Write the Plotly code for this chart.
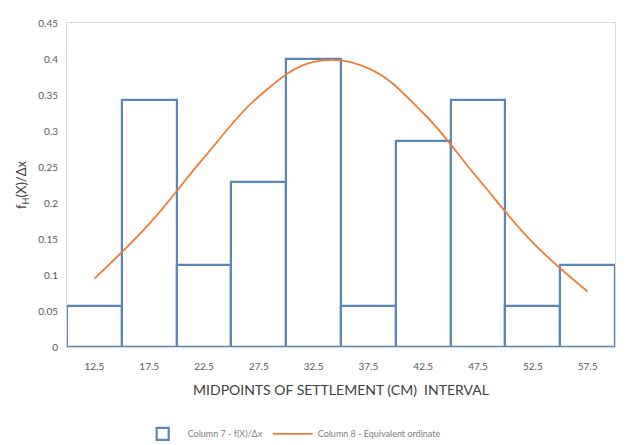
import plotly.graph_objects as go

categories = ["12.5", "17.5", "22.5", "27.5", "32.5", "37.5", "42.5", "47.5", "52.5", "57.5"]
bar_values = [0.0571, 0.3429, 0.1143, 0.2286, 0.4, 0.0571, 0.2857, 0.3429, 0.0571, 0.1143]
curve_values = [0.095, 0.171, 0.263, 0.348, 0.396, 0.387, 0.325, 0.234, 0.145, 0.077]
y_ticks = [0, 0.05, 0.1, 0.15, 0.2, 0.25, 0.3, 0.35, 0.4, 0.45]
y_tick_text = ["0", "0.05", "0.1", "0.15", "0.2", "0.25", "0.3", "0.35", "0.4", "0.45"]

FONT = "Lato, 'Open Sans', sans-serif"

fig = go.Figure()
fig.add_trace(go.Bar(
    x=categories, y=bar_values,
    name="Column 7 - f(X)/Δx",
    marker=dict(color="white", line=dict(color="#5a87b9", width=2.2)),
))
fig.add_trace(go.Scatter(
    x=categories, y=curve_values,
    name="Column 8 - Equivalent ordinate",
    mode="lines", line=dict(color="#ED7D31", width=1.8, shape="spline", smoothing=1.1),
))

fig.update_layout(
    width=628, height=445,
    margin=dict(l=67, r=13, t=23, b=98, autoexpand=False),
    paper_bgcolor="white", plot_bgcolor="white",
    bargap=0,
    font=dict(family=FONT, color="#595959", size=10),
    legend=dict(orientation="h", x=0.41, xanchor="center",
                yref="container", y=0.025, yanchor="middle",
                font=dict(size=9, color="#808080"), itemwidth=40),
    xaxis=dict(
        type="category", showgrid=False, showline=True, mirror=True, automargin=False,
        linecolor="#d9d9d9", linewidth=1, ticks="outside", ticklen=10, tickcolor="rgba(0,0,0,0)",
        tickfont=dict(size=10, color="#595959"),
        title=dict(text="MIDPOINTS OF SETTLEMENT (CM)  INTERVAL",
                   font=dict(size=14, color="#404040"), standoff=14),
    ),
    yaxis=dict(
        range=[0, 0.45], tickvals=y_ticks, ticktext=y_tick_text, automargin=False,
        showgrid=False, showline=True, mirror=True,
        linecolor="#d9d9d9", linewidth=1, zeroline=False,
        ticks="outside", ticklen=6, tickcolor="rgba(0,0,0,0)",
        tickfont=dict(size=10, color="#595959"),
        title=dict(text="f<sub>H</sub>(X)/Δx", font=dict(size=13, color="#404040"), standoff=8),
    ),
)

fig.write_html("out.html")
